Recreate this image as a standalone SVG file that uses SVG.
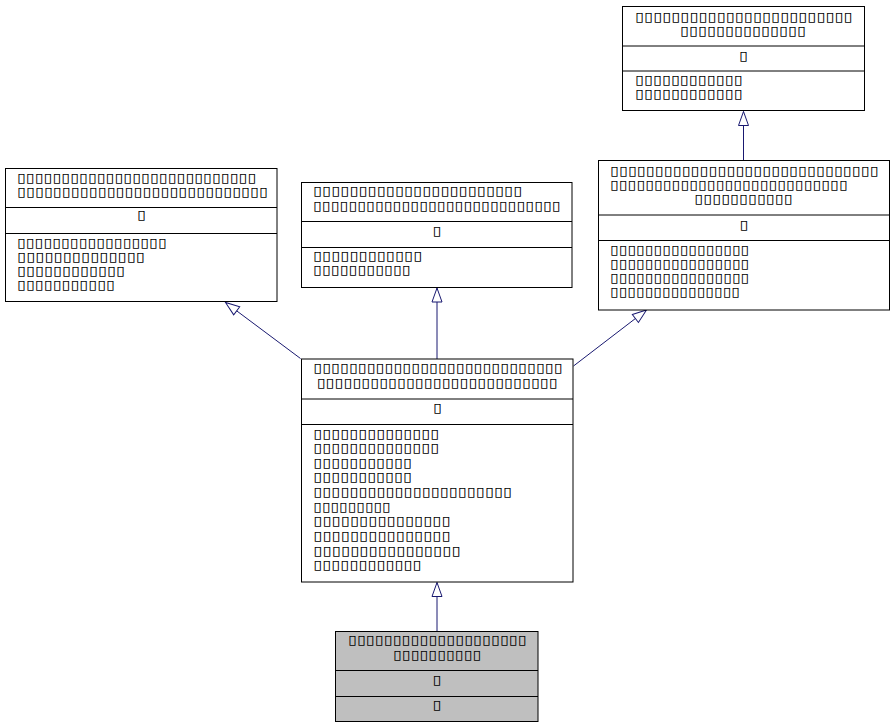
<svg xmlns="http://www.w3.org/2000/svg" width="895" height="728" viewBox="0 0 895 728">
  <style>
    .box { fill: #ffffff; stroke: #000000; stroke-width: 1; }
    .leaf { fill: #bfbfbf; stroke: #000000; stroke-width: 1; }
    .sep { stroke: #000000; stroke-width: 1; fill: none; }
    .t { font-family: "DejaVu Sans", sans-serif; font-size: 12.5px; fill: #000000; }
    .c { text-anchor: middle; }
    .edge { stroke: #191970; stroke-width: 1; fill: none; marker-end: url(#inherit); }
  </style>
  <defs>
    <marker id="inherit" markerUnits="userSpaceOnUse" markerWidth="16" markerHeight="12" viewBox="0 0 16 12" refX="15" refY="6" orient="auto">
      <path d="M1,1 L15,6 L1,11 Z" fill="#ffffff" stroke="#191970" stroke-width="1"/>
    </marker>
  </defs>

  <!-- inheritance edges -->
  <g id="edges">
    <path class="edge" d="M743.5,160.5 L743.5,111.5"/>
    <path class="edge" d="M437,359 L437,288"/>
    <path class="edge" d="M300.5,358.5 L225.5,302.5"/>
    <path class="edge" d="M573.5,366 L646.5,310"/>
    <path class="edge" d="M437,631 L437,582.5"/>
  </g>

  <!-- top right class -->
  <g id="nodeA">
    <rect class="box" x="622.5" y="6.5" width="242" height="104"/>
    <line class="sep" x1="622.5" y1="46" x2="864.5" y2="46"/>
    <line class="sep" x1="622.5" y1="71" x2="864.5" y2="71"/>
    <text class="t" x="635" y="20.5" textLength="217.7" lengthAdjust="spacingAndGlyphs">▯▯▯▯▯▯▯▯▯▯▯▯▯▯▯▯▯▯▯▯▯▯▯▯</text>
    <text class="t" x="680" y="34.5" textLength="126" lengthAdjust="spacingAndGlyphs">▯▯▯▯▯▯▯▯▯▯▯▯▯▯</text>
    <text class="t c" x="743.5" y="60" textLength="9" lengthAdjust="spacingAndGlyphs">▯</text>
    <text class="t" x="635" y="84" textLength="107.7" lengthAdjust="spacingAndGlyphs">▯▯▯▯▯▯▯▯▯▯▯▯</text>
    <text class="t" x="635" y="98" textLength="107.7" lengthAdjust="spacingAndGlyphs">▯▯▯▯▯▯▯▯▯▯▯▯</text>
  </g>

  <!-- middle right class -->
  <g id="nodeB">
    <rect class="box" x="598.5" y="160.5" width="291" height="149.5"/>
    <line class="sep" x1="598.5" y1="215" x2="889.5" y2="215"/>
    <line class="sep" x1="598.5" y1="240.5" x2="889.5" y2="240.5"/>
    <text class="t" x="610" y="174.7" textLength="268.7" lengthAdjust="spacingAndGlyphs">▯▯▯▯▯▯▯▯▯▯▯▯▯▯▯▯▯▯▯▯▯▯▯▯▯▯▯▯▯▯</text>
    <text class="t" x="610" y="189" textLength="237.7" lengthAdjust="spacingAndGlyphs">▯▯▯▯▯▯▯▯▯▯▯▯▯▯▯▯▯▯▯▯▯▯▯▯▯▯▯</text>
    <text class="t" x="694.3" y="203.2" textLength="98.4" lengthAdjust="spacingAndGlyphs">▯▯▯▯▯▯▯▯▯▯▯</text>
    <text class="t c" x="744" y="229" textLength="9" lengthAdjust="spacingAndGlyphs">▯</text>
    <text class="t" x="610" y="254" textLength="139.3" lengthAdjust="spacingAndGlyphs">▯▯▯▯▯▯▯▯▯▯▯▯▯▯▯▯</text>
    <text class="t" x="610" y="268" textLength="139.3" lengthAdjust="spacingAndGlyphs">▯▯▯▯▯▯▯▯▯▯▯▯▯▯▯▯</text>
    <text class="t" x="610" y="282" textLength="139.3" lengthAdjust="spacingAndGlyphs">▯▯▯▯▯▯▯▯▯▯▯▯▯▯▯▯</text>
    <text class="t" x="610" y="296" textLength="130" lengthAdjust="spacingAndGlyphs">▯▯▯▯▯▯▯▯▯▯▯▯▯▯▯</text>
  </g>

  <!-- top left class -->
  <g id="nodeC">
    <rect class="box" x="5.5" y="168.5" width="271.5" height="133"/>
    <line class="sep" x1="5.5" y1="207.5" x2="277" y2="207.5"/>
    <line class="sep" x1="5.5" y1="233.5" x2="277" y2="233.5"/>
    <text class="t" x="17" y="182" textLength="239.3" lengthAdjust="spacingAndGlyphs">▯▯▯▯▯▯▯▯▯▯▯▯▯▯▯▯▯▯▯▯▯▯▯▯▯▯▯</text>
    <text class="t" x="17" y="196" textLength="251" lengthAdjust="spacingAndGlyphs">▯▯▯▯▯▯▯▯▯▯▯▯▯▯▯▯▯▯▯▯▯▯▯▯▯▯▯▯</text>
    <text class="t c" x="141.5" y="219" textLength="9" lengthAdjust="spacingAndGlyphs">▯</text>
    <text class="t" x="17" y="246.5" textLength="149.7" lengthAdjust="spacingAndGlyphs">▯▯▯▯▯▯▯▯▯▯▯▯▯▯▯▯▯</text>
    <text class="t" x="17" y="260.5" textLength="128" lengthAdjust="spacingAndGlyphs">▯▯▯▯▯▯▯▯▯▯▯▯▯▯</text>
    <text class="t" x="17" y="274.5" textLength="108" lengthAdjust="spacingAndGlyphs">▯▯▯▯▯▯▯▯▯▯▯▯</text>
    <text class="t" x="17" y="288.5" textLength="98" lengthAdjust="spacingAndGlyphs">▯▯▯▯▯▯▯▯▯▯▯</text>
  </g>

  <!-- top middle class -->
  <g id="nodeD">
    <rect class="box" x="301.5" y="182.5" width="270.5" height="105"/>
    <line class="sep" x1="301.5" y1="221.5" x2="572" y2="221.5"/>
    <line class="sep" x1="301.5" y1="247.5" x2="572" y2="247.5"/>
    <text class="t" x="313" y="195.3" textLength="209.3" lengthAdjust="spacingAndGlyphs">▯▯▯▯▯▯▯▯▯▯▯▯▯▯▯▯▯▯▯▯▯▯▯</text>
    <text class="t" x="313" y="210" textLength="247.7" lengthAdjust="spacingAndGlyphs">▯▯▯▯▯▯▯▯▯▯▯▯▯▯▯▯▯▯▯▯▯▯▯▯▯▯▯▯</text>
    <text class="t c" x="437" y="235.3" textLength="9" lengthAdjust="spacingAndGlyphs">▯</text>
    <text class="t" x="313" y="260.3" textLength="109.3" lengthAdjust="spacingAndGlyphs">▯▯▯▯▯▯▯▯▯▯▯▯</text>
    <text class="t" x="313" y="274.3" textLength="97.7" lengthAdjust="spacingAndGlyphs">▯▯▯▯▯▯▯▯▯▯▯</text>
  </g>

  <!-- central class -->
  <g id="nodeE">
    <rect class="box" x="301.5" y="359" width="271.5" height="223"/>
    <line class="sep" x1="301.5" y1="399" x2="573" y2="399"/>
    <line class="sep" x1="301.5" y1="424.5" x2="573" y2="424.5"/>
    <text class="t" x="313.3" y="372.3" textLength="249.3" lengthAdjust="spacingAndGlyphs">▯▯▯▯▯▯▯▯▯▯▯▯▯▯▯▯▯▯▯▯▯▯▯▯▯▯▯▯</text>
    <text class="t" x="316.7" y="387.3" textLength="241" lengthAdjust="spacingAndGlyphs">▯▯▯▯▯▯▯▯▯▯▯▯▯▯▯▯▯▯▯▯▯▯▯▯▯▯▯</text>
    <text class="t c" x="437.5" y="412.3" textLength="9" lengthAdjust="spacingAndGlyphs">▯</text>
    <text class="t" x="313.3" y="437.5" textLength="126" lengthAdjust="spacingAndGlyphs">▯▯▯▯▯▯▯▯▯▯▯▯▯▯</text>
    <text class="t" x="313.3" y="452.1" textLength="126" lengthAdjust="spacingAndGlyphs">▯▯▯▯▯▯▯▯▯▯▯▯▯▯</text>
    <text class="t" x="313.3" y="466.8" textLength="98.7" lengthAdjust="spacingAndGlyphs">▯▯▯▯▯▯▯▯▯▯▯</text>
    <text class="t" x="313.3" y="481.4" textLength="98.7" lengthAdjust="spacingAndGlyphs">▯▯▯▯▯▯▯▯▯▯▯</text>
    <text class="t" x="313.3" y="496" textLength="198.7" lengthAdjust="spacingAndGlyphs">▯▯▯▯▯▯▯▯▯▯▯▯▯▯▯▯▯▯▯▯▯▯</text>
    <text class="t" x="313.3" y="510.7" textLength="77.4" lengthAdjust="spacingAndGlyphs">▯▯▯▯▯▯▯▯▯</text>
    <text class="t" x="313.3" y="525.3" textLength="137.4" lengthAdjust="spacingAndGlyphs">▯▯▯▯▯▯▯▯▯▯▯▯▯▯▯</text>
    <text class="t" x="313.3" y="539.9" textLength="137.4" lengthAdjust="spacingAndGlyphs">▯▯▯▯▯▯▯▯▯▯▯▯▯▯▯</text>
    <text class="t" x="313.3" y="554.5" textLength="147.4" lengthAdjust="spacingAndGlyphs">▯▯▯▯▯▯▯▯▯▯▯▯▯▯▯▯</text>
    <text class="t" x="313.3" y="569.2" textLength="108.3" lengthAdjust="spacingAndGlyphs">▯▯▯▯▯▯▯▯▯▯▯▯</text>
  </g>

  <!-- derived class (highlighted) -->
  <g id="nodeF">
    <rect class="leaf" x="335.5" y="631.5" width="202.5" height="90"/>
    <line class="sep" x1="335.5" y1="670.5" x2="538" y2="670.5"/>
    <line class="sep" x1="335.5" y1="696.5" x2="538" y2="696.5"/>
    <text class="t" x="348" y="644.3" textLength="178.7" lengthAdjust="spacingAndGlyphs">▯▯▯▯▯▯▯▯▯▯▯▯▯▯▯▯▯▯▯▯</text>
    <text class="t" x="393" y="658.7" textLength="88.3" lengthAdjust="spacingAndGlyphs">▯▯▯▯▯▯▯▯▯▯</text>
    <text class="t c" x="437" y="684.3" textLength="9" lengthAdjust="spacingAndGlyphs">▯</text>
    <text class="t c" x="437" y="708.7" textLength="9" lengthAdjust="spacingAndGlyphs">▯</text>
  </g>
</svg>
